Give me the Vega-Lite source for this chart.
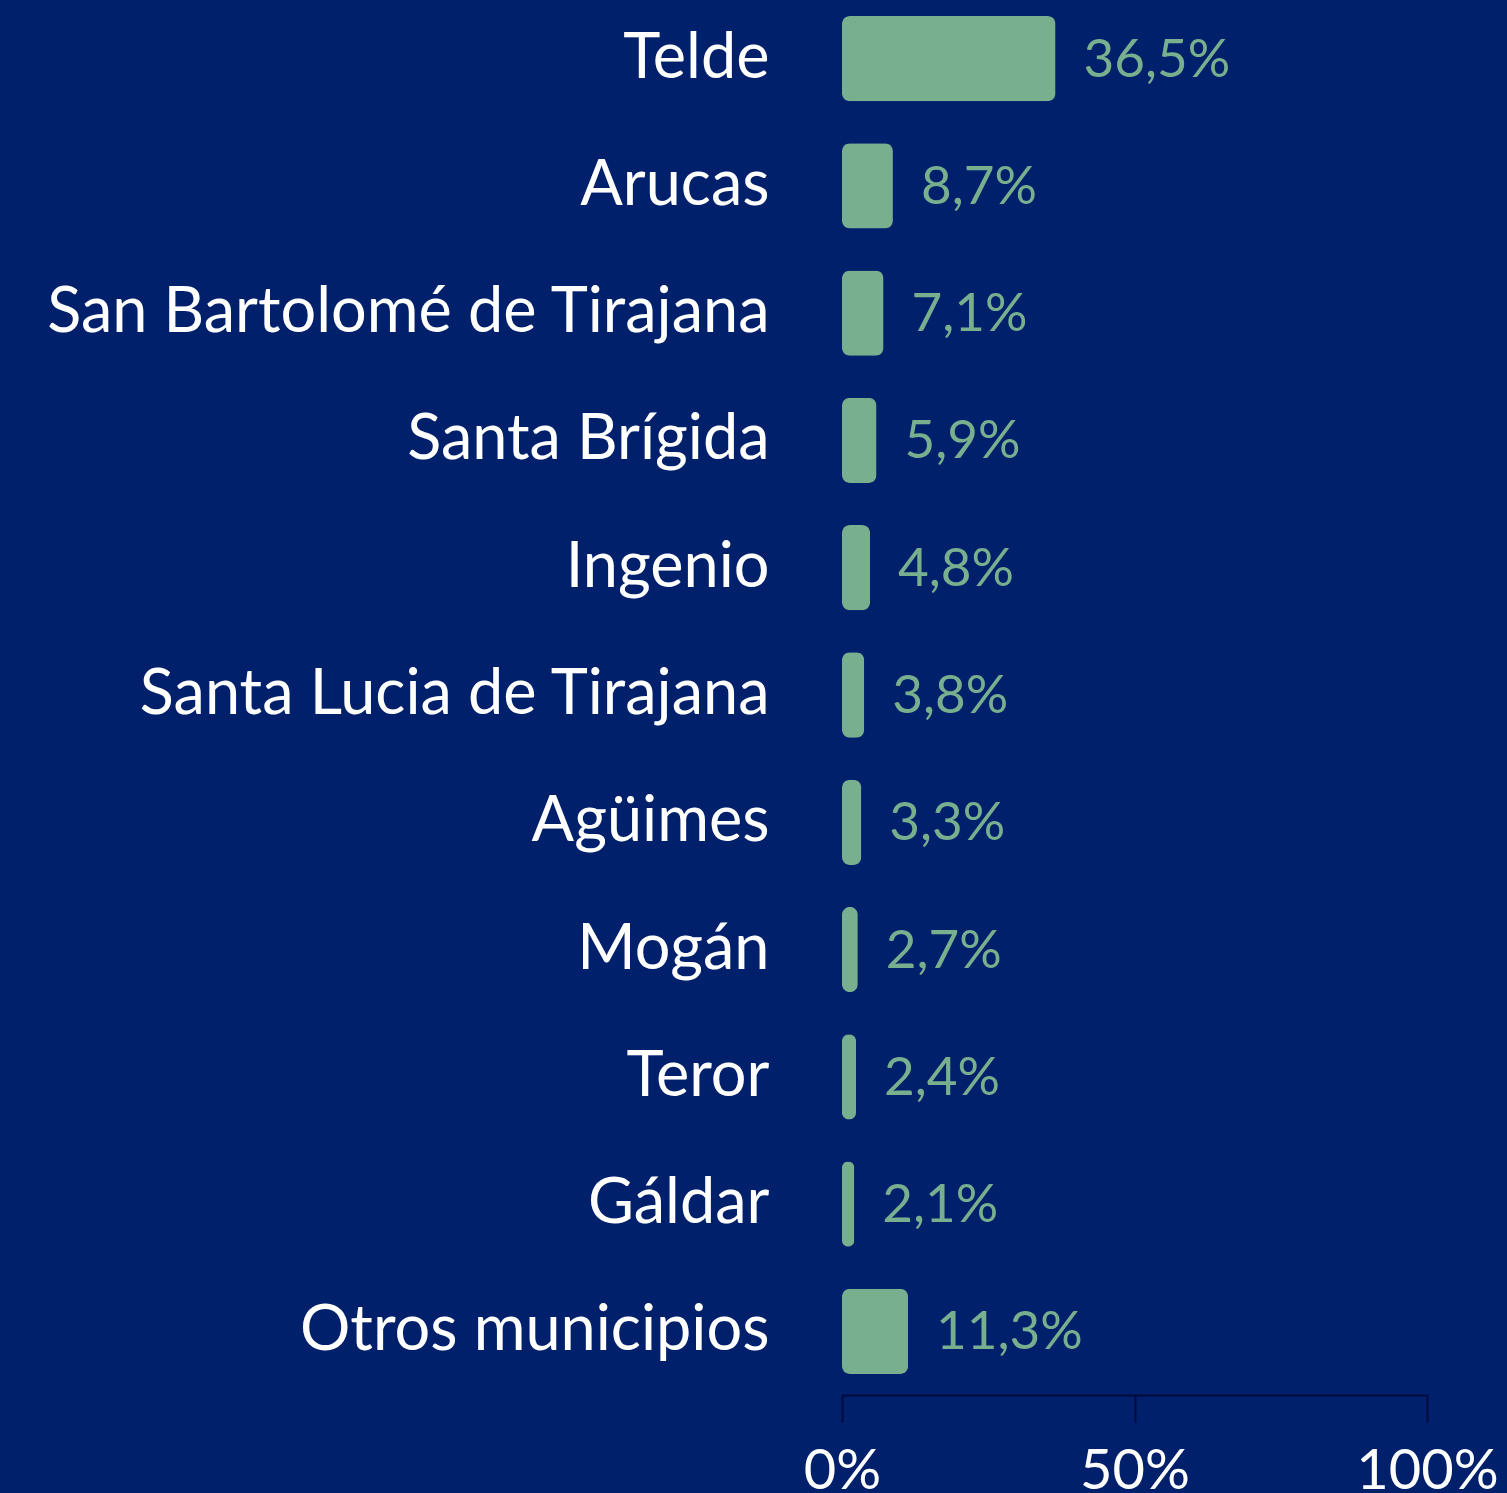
{
  "$schema": "https://vega.github.io/schema/vega-lite/v6.json",
  "autosize": {"type": "none"},
  "width": 585,
  "height": 1400,
  "padding": {"left": 842, "top": -5, "right": 80, "bottom": 98},
  "background": "#00206b",
  "config": {
    "view": {"stroke": null},
    "locale": {"number": {"decimal": ",", "thousands": ".", "grouping": [3], "currency": ["", " €"]}},
    "font": "Lato"
  },
  "data": {
    "values": [
      {"municipio": "Telde", "pct": 0.365},
      {"municipio": "Arucas", "pct": 0.087},
      {"municipio": "San Bartolomé de Tirajana", "pct": 0.071},
      {"municipio": "Santa Brígida", "pct": 0.059},
      {"municipio": "Ingenio", "pct": 0.048},
      {"municipio": "Santa Lucia de Tirajana", "pct": 0.038},
      {"municipio": "Agüimes", "pct": 0.033},
      {"municipio": "Mogán", "pct": 0.027},
      {"municipio": "Teror", "pct": 0.024},
      {"municipio": "Gáldar", "pct": 0.021},
      {"municipio": "Otros municipios", "pct": 0.113}
    ]
  },
  "encoding": {
    "y": {
      "field": "municipio",
      "type": "nominal",
      "sort": null,
      "title": null,
      "scale": {"paddingInner": 0.33, "paddingOuter": 0.165},
      "axis": {
        "domain": false,
        "ticks": false,
        "labelPadding": 73,
        "labelFontSize": 63,
        "labelFontWeight": 400,
        "labelColor": "#ffffff",
        "labelFont": "Lato",
        "labelLimit": 900
      }
    },
    "x": {
      "field": "pct",
      "type": "quantitative",
      "title": null,
      "scale": {"domain": [0, 1], "nice": false},
      "axis": {
        "values": [0, 0.5, 1],
        "format": ".0%",
        "grid": false,
        "domainColor": "#000a3c",
        "domainWidth": 2,
        "tickColor": "#000a3c",
        "tickWidth": 2,
        "tickSize": 27,
        "labelPadding": 22,
        "labelFontSize": 56,
        "labelFontWeight": 400,
        "labelColor": "#ffffff",
        "labelFont": "Lato",
        "labelOverlap": false,
        "labelBound": false,
        "labelFlush": false
      }
    }
  },
  "layer": [
    {
      "mark": {"type": "bar", "color": "#78b08f", "cornerRadius": 8}
    },
    {
      "mark": {"type": "text", "align": "left", "baseline": "middle", "dx": 28, "dy": 2, "fontSize": 53, "fontWeight": 400, "color": "#78b08f", "font": "Lato"},
      "encoding": {
        "text": {"field": "pct", "type": "quantitative", "format": ".1%"}
      }
    }
  ]
}
